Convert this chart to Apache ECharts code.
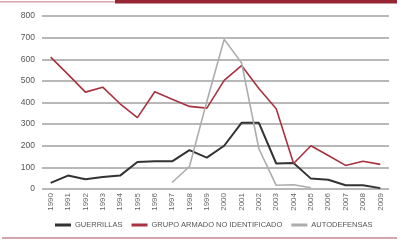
<!DOCTYPE html>
<html>
<head>
<meta charset="utf-8">
<script src="https://cdn.jsdelivr.net/npm/echarts@6/dist/echarts.min.js"></script>
<style>
  html, body { margin: 0; padding: 0; background: #fff; }
  #chart { width: 403px; height: 243px; }
</style>
</head>
<body>
<div id="chart"></div>
<script>
const years = ['1990', '1991', '1992', '1993', '1994', '1995', '1996', '1997', '1998', '1999',
  '2000', '2001', '2002', '2003', '2004', '2005', '2006', '2007', '2008', '2009'];
const guerrillas = [28, 62, 45, 55, 62, 125, 128, 128, 180, 145, 200, 306, 306, 118, 120, 48, 43, 17, 17, 4];
const grupoArmado = [610, 530, 448, 471, 394, 330, 450, 415, 382, 374, 502, 571, 465, 371, 118, 200, 155, 109, 128, 114];
const autodefensas = [null, null, null, null, null, null, null, 30, 104, 405, 692, 584, 186, 17, 20, 6, null, null, null, null];
const seriesNames = ['GUERRILLAS', 'GRUPO ARMADO NO IDENTIFICADO', 'AUTODEFENSAS'];

const chart = echarts.init(document.getElementById('chart'));
chart.setOption({
  animation: false,
  textStyle: { fontFamily: 'Liberation Sans, Arial, sans-serif' },
  grid: { left: 42, right: 14, top: 16, bottom: 54 },
  xAxis: {
    type: 'category',
    data: years,
    boundaryGap: true,
    axisLine: { show: false },
    axisTick: { show: false },
    axisLabel: { rotate: 90, fontSize: 8, color: '#666', margin: 4, interval: 0 }
  },
  yAxis: {
    type: 'value',
    min: 0,
    max: 800,
    interval: 100,
    axisLine: { show: false },
    axisTick: { show: false },
    axisLabel: { fontSize: 8.5, color: '#555', margin: 7 },
    splitLine: { lineStyle: { color: '#a0a0a0', width: 1.5 } }
  },
  legend: {
    left: 50,
    top: 216,
    itemWidth: 16,
    itemHeight: 3,
    itemGap: 9,
    icon: 'rect',
    textStyle: { fontSize: 7.5, color: '#555', padding: [0, 0, 0, -1] },
    data: seriesNames
  },
  series: [
    {
      name: seriesNames[0], type: 'line', data: guerrillas, symbol: 'none',
      color: '#333333', lineStyle: { width: 2, color: '#333333' }
    },
    {
      name: seriesNames[1], type: 'line', data: grupoArmado, symbol: 'none',
      color: '#a8323f', lineStyle: { width: 1.6, color: '#a8323f' }
    },
    {
      name: seriesNames[2], type: 'line', data: autodefensas, symbol: 'none',
      color: '#acacac', lineStyle: { width: 1.6, color: '#acacac' }
    }
  ],
  graphic: [
    { type: 'rect', shape: { x: 0, y: 1, width: 116, height: 1.5 }, style: { fill: '#d9a3ad' } },
    { type: 'rect', shape: { x: 115, y: 0, width: 282, height: 3.5 }, style: { fill: '#962633' } },
    { type: 'rect', shape: { x: 2, y: 237, width: 395, height: 2 }, style: { fill: '#d4a6b0' } }
  ]
});
</script>
</body>
</html>
